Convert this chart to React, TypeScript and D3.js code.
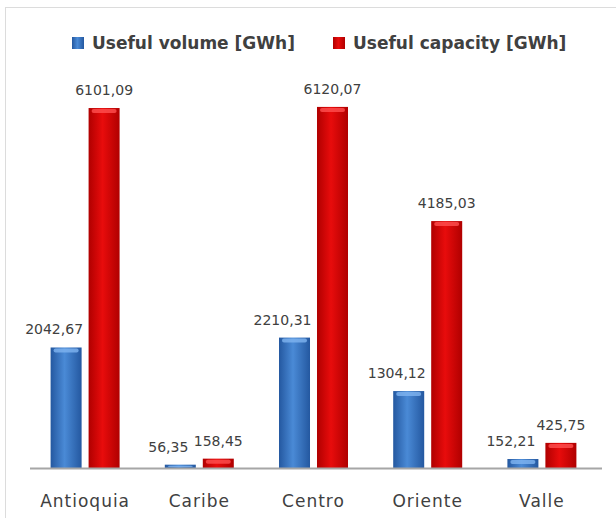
import React, {useEffect, useRef} from 'react';
import * as d3 from 'd3';

// Chart data
const categories = ['Antioquia', 'Caribe', 'Centro', 'Oriente', 'Valle'];
const seriesNames = ['Useful volume [GWh]', 'Useful capacity [GWh]'];
const usefulVolume = [2042.67, 56.35, 2210.31, 1304.12, 152.21];
const usefulCapacity = [6101.09, 158.45, 6120.07, 4185.03, 425.75];

const WIDTH = 616;
const HEIGHT = 518;

const fmt = (v: number) => v.toFixed(2).replace('.', ',');

/**
 * Grouped bar chart of useful volume / capacity per region.
 */
const App: React.FC = () => {
  const svgRef = useRef<SVGSVGElement>(null);

  useEffect(() => {
    if (!svgRef.current) return;
    const svg = d3.select(svgRef.current);
    svg.selectAll('*').remove();

    const baseY = 468;
    const left = 28;
    const right = 599;

    const x = d3.scaleBand().domain(categories).range([left, right]);
    const xs = d3
      .scaleBand()
      .domain(seriesNames)
      .range([0, x.bandwidth()])
      .paddingInner(0.184)
      .paddingOuter(0.595);
    const y = d3.scaleLinear().domain([0, 7000]).range([baseY, 55]);

    const defs = svg.append('defs');
    const makeGrad = (id: string, edge: string, mid: string) => {
      const g = defs
        .append('linearGradient')
        .attr('id', id)
        .attr('x1', 0)
        .attr('x2', 1)
        .attr('y1', 0)
        .attr('y2', 0);
      g.append('stop').attr('offset', '0%').attr('stop-color', edge);
      g.append('stop').attr('offset', '45%').attr('stop-color', mid);
      g.append('stop').attr('offset', '100%').attr('stop-color', edge);
    };
    makeGrad('grad-blue', '#2458a0', '#4a8ad6');
    makeGrad('grad-red', '#b00000', '#e80c0c');

    // Frame
    svg
      .append('rect')
      .attr('x', 5.5)
      .attr('y', 7.5)
      .attr('width', WIDTH)
      .attr('height', HEIGHT)
      .attr('fill', '#fff')
      .attr('stroke', '#dcdcdc');

    const series = [
      {name: seriesNames[0], values: usefulVolume, fill: 'url(#grad-blue)', hi: '#7fb4f0', dx: -12},
      {name: seriesNames[1], values: usefulCapacity, fill: 'url(#grad-red)', hi: '#ff5050', dx: 0},
    ];

    series.forEach((s) => {
      const g = svg.append('g');
      const data = categories.map((c, i) => ({c, v: s.values[i]}));
      const bx = (d: {c: string}) => (x(d.c) || 0) + (xs(s.name) || 0);

      g.selectAll('text.val')
        .data(data)
        .enter()
        .append('text')
        .attr('class', 'val')
        .attr('x', (d) => bx(d) + xs.bandwidth() / 2 + s.dx)
        .attr('y', (d) => y(d.v) - 13)
        .attr('text-anchor', 'middle')
        .attr('font-family', 'DejaVu Sans')
        .attr('font-size', 14)
        .attr('fill', '#404040')
        .text((d) => fmt(d.v));

      g.selectAll('rect.bar')
        .data(data)
        .enter()
        .append('rect')
        .attr('class', 'bar')
        .attr('x', bx)
        .attr('width', xs.bandwidth())
        .attr('y', (d) => y(d.v))
        .attr('height', (d) => baseY - y(d.v))
        .attr('fill', s.fill);

      // top bevel highlight
      g.selectAll('rect.hi')
        .data(data)
        .enter()
        .append('rect')
        .attr('class', 'hi')
        .attr('x', (d) => bx(d) + 3)
        .attr('width', xs.bandwidth() - 6)
        .attr('y', (d) => y(d.v) + 1)
        .attr('height', (d) => Math.min(4, Math.max(0, baseY - y(d.v) - 2)))
        .attr('rx', 2)
        .attr('fill', s.hi)
        .attr('opacity', 0.8);
    });

    // Baseline
    svg
      .append('line')
      .attr('x1', 30)
      .attr('x2', 602)
      .attr('y1', baseY + 0.5)
      .attr('y2', baseY + 0.5)
      .attr('stroke', '#a6a6a6')
      .attr('stroke-width', 2);

    // Category labels
    svg
      .append('g')
      .selectAll('text')
      .data(categories)
      .enter()
      .append('text')
      .attr('x', (d) => (x(d) || 0) + x.bandwidth() / 2)
      .attr('y', 507)
      .attr('text-anchor', 'middle')
      .attr('font-family', 'DejaVu Sans')
      .attr('font-size', 17)
      .attr('letter-spacing', 1)
      .attr('fill', '#404040')
      .text((d) => d);

    // Legend
    const legendX = [72, 333];
    const legendColors = ['url(#grad-blue)', 'url(#grad-red)'];
    const legend = svg
      .append('g')
      .selectAll('g')
      .data(seriesNames)
      .enter()
      .append('g')
      .attr('transform', (_, i) => `translate(${legendX[i]},37)`);
    legend
      .append('rect')
      .attr('width', 12)
      .attr('height', 12)
      .attr('fill', (_, i) => legendColors[i]);
    legend
      .append('text')
      .attr('x', 20)
      .attr('y', 12)
      .attr('font-family', 'DejaVu Sans')
      .attr('font-weight', 'bold')
      .attr('font-size', 17)
      .attr('fill', '#404040')
      .text((d) => d);
  }, []);

  return (
    <svg
      ref={svgRef}
      width={WIDTH}
      height={HEIGHT}
      style={{position: 'absolute', left: 0, top: 0, background: '#fff'}}
    />
  );
};

export default App;
